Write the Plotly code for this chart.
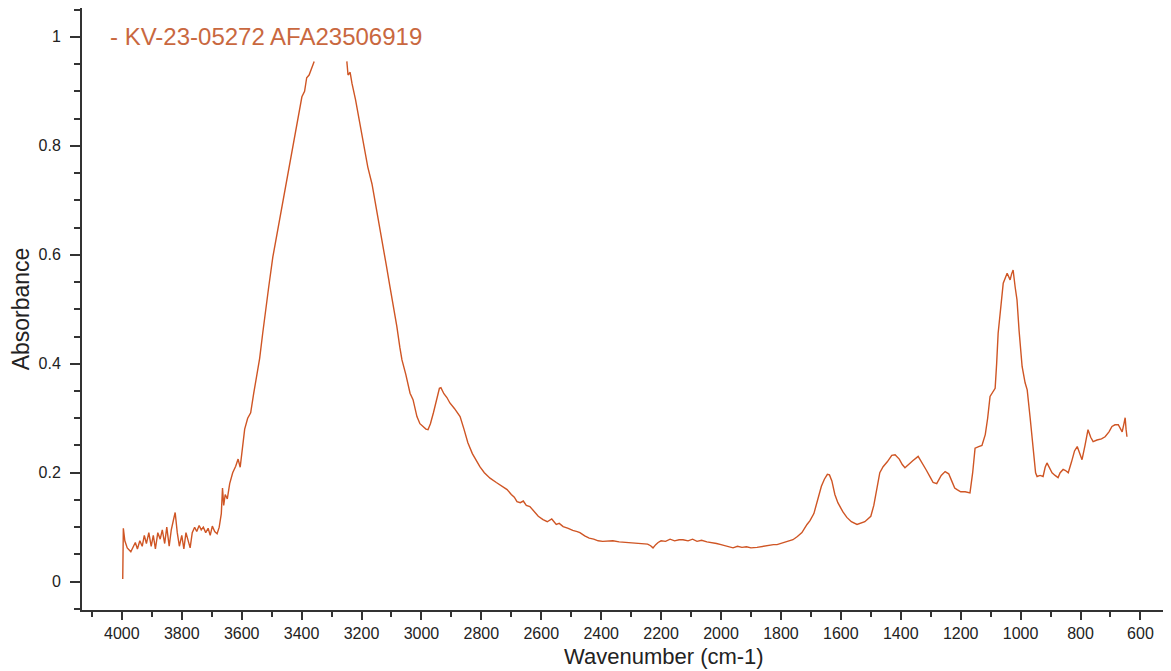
import plotly.graph_objects as go

wavenumber = [
    3997, 3995, 3990, 3982, 3970, 3962, 3955, 3948, 3940, 3932, 3925, 3918, 3910, 3902, 3895, 3888,
    3880, 3872, 3865, 3857, 3850, 3842, 3835, 3827, 3822, 3815, 3808, 3800, 3793, 3786, 3779, 3772,
    3765, 3757, 3750, 3742, 3735, 3728, 3720, 3712, 3705, 3698, 3690, 3682, 3675, 3668, 3664, 3660,
    3655, 3648, 3640, 3630, 3620, 3612, 3605, 3598, 3590, 3580, 3570, 3560, 3550, 3540, 3530, 3523,
    3510, 3496, 3480, 3466, 3452, 3439, 3425, 3416, 3405, 3399, 3390, 3383, 3375, 3366, 3358, 3300,
    3249, 3245, 3238, 3232, 3220, 3205, 3192, 3179, 3165, 3155, 3142, 3129, 3117, 3105, 3093, 3082,
    3072, 3065, 3052, 3038, 3028, 3015, 3005, 2995, 2985, 2978, 2970, 2960, 2950, 2940, 2935, 2925,
    2915, 2905, 2890, 2871, 2858, 2845, 2830, 2815, 2805, 2790, 2771, 2750, 2730, 2714, 2700, 2690,
    2681, 2670, 2660, 2650, 2638, 2625, 2610, 2594, 2580, 2565, 2550, 2540, 2527, 2510, 2495, 2480,
    2471, 2455, 2440, 2425, 2410, 2395, 2380, 2361, 2340, 2320, 2300, 2280, 2260, 2245, 2235, 2227,
    2218, 2210, 2200, 2185, 2170, 2155, 2140, 2127, 2110, 2095, 2080, 2065, 2047, 2030, 2015, 2000,
    1985, 1970, 1960, 1945, 1930, 1915, 1900, 1880, 1860, 1840, 1825, 1813, 1800, 1785, 1770, 1760,
    1745, 1730, 1713, 1703, 1690, 1676, 1665, 1655, 1645, 1638, 1630, 1620, 1610, 1600, 1593, 1580,
    1565, 1546, 1535, 1520, 1510, 1500, 1490, 1480, 1470, 1459, 1445, 1430, 1419, 1405, 1395, 1386,
    1375, 1360, 1342, 1330, 1315, 1300, 1292, 1280, 1265, 1252, 1240, 1230, 1220, 1212, 1200, 1185,
    1169, 1160, 1152, 1140, 1129, 1118, 1110, 1102, 1090, 1085, 1080, 1075, 1065, 1058, 1045, 1040,
    1035, 1030, 1025, 1018, 1012, 1005, 995, 985, 978, 968, 958, 950, 945, 935, 925, 918,
    912, 905, 895, 885, 875, 868, 858, 850, 841, 830, 820, 811, 803, 795, 785, 775,
    766, 758, 745, 730, 718, 705, 695, 685, 674, 668, 661, 655, 651, 648, 645,
]

absorbance = [
    0.005, 0.098, 0.075, 0.062, 0.055, 0.065, 0.072, 0.060, 0.075, 0.065, 0.085, 0.070, 0.090, 0.065, 0.085, 0.060,
    0.090, 0.078, 0.095, 0.070, 0.100, 0.065, 0.095, 0.115, 0.127, 0.090, 0.065, 0.085, 0.060, 0.090, 0.075, 0.062,
    0.090, 0.100, 0.092, 0.103, 0.095, 0.100, 0.090, 0.098, 0.085, 0.102, 0.092, 0.088, 0.100, 0.125, 0.172, 0.140,
    0.160, 0.152, 0.180, 0.200, 0.212, 0.225, 0.210, 0.245, 0.280, 0.300, 0.310, 0.345, 0.380, 0.410, 0.455, 0.487,
    0.540, 0.596, 0.645, 0.688, 0.730, 0.769, 0.810, 0.835, 0.875, 0.890, 0.900, 0.925, 0.930, 0.945, 0.955, None,
    0.955, 0.930, 0.935, 0.915, 0.885, 0.842, 0.800, 0.761, 0.730, 0.700, 0.660, 0.615, 0.580, 0.541, 0.505, 0.468,
    0.430, 0.407, 0.380, 0.346, 0.334, 0.303, 0.290, 0.285, 0.280, 0.279, 0.290, 0.310, 0.335, 0.355, 0.356, 0.345,
    0.338, 0.328, 0.318, 0.303, 0.280, 0.255, 0.235, 0.220, 0.211, 0.200, 0.190, 0.182, 0.175, 0.169, 0.160, 0.155,
    0.147, 0.145, 0.148, 0.140, 0.138, 0.130, 0.120, 0.114, 0.110, 0.115, 0.105, 0.107, 0.101, 0.098, 0.094, 0.092,
    0.090, 0.084, 0.080, 0.078, 0.075, 0.074, 0.074, 0.075, 0.073, 0.072, 0.072, 0.071, 0.070, 0.069, 0.066, 0.062,
    0.068, 0.072, 0.075, 0.074, 0.078, 0.075, 0.077, 0.077, 0.075, 0.078, 0.074, 0.076, 0.073, 0.072, 0.070, 0.068,
    0.066, 0.064, 0.062, 0.065, 0.063, 0.064, 0.062, 0.063, 0.065, 0.066, 0.068, 0.068, 0.070, 0.072, 0.075, 0.077,
    0.083, 0.090, 0.105, 0.112, 0.125, 0.156, 0.175, 0.188, 0.197, 0.196, 0.185, 0.160, 0.145, 0.135, 0.128, 0.118,
    0.110, 0.105, 0.107, 0.110, 0.115, 0.120, 0.140, 0.170, 0.200, 0.211, 0.220, 0.232, 0.233, 0.225, 0.215, 0.209,
    0.215, 0.222, 0.230, 0.220, 0.205, 0.190, 0.182, 0.180, 0.195, 0.202, 0.198, 0.185, 0.172, 0.169, 0.165, 0.165,
    0.163, 0.200, 0.245, 0.248, 0.250, 0.270, 0.300, 0.340, 0.350, 0.355, 0.400, 0.456, 0.510, 0.548, 0.566, 0.560,
    0.554, 0.565, 0.572, 0.540, 0.517, 0.460, 0.395, 0.365, 0.352, 0.300, 0.242, 0.200, 0.193, 0.195, 0.193, 0.210,
    0.218, 0.210, 0.200, 0.195, 0.191, 0.200, 0.206, 0.204, 0.200, 0.220, 0.240, 0.248, 0.235, 0.224, 0.250, 0.279,
    0.265, 0.257, 0.260, 0.262, 0.266, 0.275, 0.285, 0.288, 0.288, 0.282, 0.275, 0.290, 0.301, 0.280, 0.266,
]

series_name = "KV-23-05272 AFA23506919"
x_title = "Wavenumber (cm-1)"
y_title = "Absorbance"
y_tick_vals = [0, 0.2, 0.4, 0.6, 0.8, 1]
y_tick_text = ["0", "0.2", "0.4", "0.6", "0.8", "1"]

line_color = "#CF5524"
text_color = "#C9683F"
axis_color = "#333333"
font_family = "Liberation Sans, Arial, sans-serif"

fig = go.Figure()
fig.add_trace(go.Scatter(
    x=wavenumber, y=absorbance, mode="lines", name=series_name,
    line=dict(color=line_color, width=1.4), connectgaps=False, showlegend=False,
))

fig.add_annotation(
    xref="paper", yref="paper", x=0.024, y=0.952, xanchor="left", yanchor="middle",
    text="- " + series_name, showarrow=False,
    font=dict(family=font_family, size=24, color=text_color),
)

# x-axis title (placed right of centre, as in the original)
fig.add_annotation(
    xref="paper", yref="paper", x=0.534, y=-0.077, xanchor="center", yanchor="middle",
    text=x_title, showarrow=False,
    font=dict(family=font_family, size=22, color="#222222"),
)

fig.update_layout(
    width=1163, height=663,
    margin=dict(l=74, r=0, t=0, b=61, autoexpand=False),
    paper_bgcolor="white", plot_bgcolor="white",
    font=dict(family=font_family, size=16, color="#222222"),
)

fig.update_xaxes(
    range=[4133, 498], dtick=200, tick0=0, showgrid=False, zeroline=False,
    showline=True, linecolor=axis_color, linewidth=2,
    ticks="outside", ticklen=8, tickwidth=1.5, tickcolor=axis_color,
    minor=dict(dtick=100, ticks="outside", ticklen=5, tickwidth=1.5, tickcolor=axis_color),
    tickfont=dict(size=16), automargin=False,
)
fig.update_yaxes(
    range=[-0.052, 1.053], tickvals=y_tick_vals, ticktext=y_tick_text,
    showgrid=False, zeroline=False,
    showline=True, linecolor=axis_color, linewidth=2,
    ticks="outside", ticklen=10, tickwidth=1.5, tickcolor=axis_color,
    ticklabelstandoff=6,
    minor=dict(dtick=0.05, tick0=0, ticks="outside", ticklen=6, tickwidth=1.5, tickcolor=axis_color),
    title=dict(text=y_title, font=dict(size=23), standoff=6),
    tickfont=dict(size=16), automargin=False,
)

fig.write_html("out.html")
